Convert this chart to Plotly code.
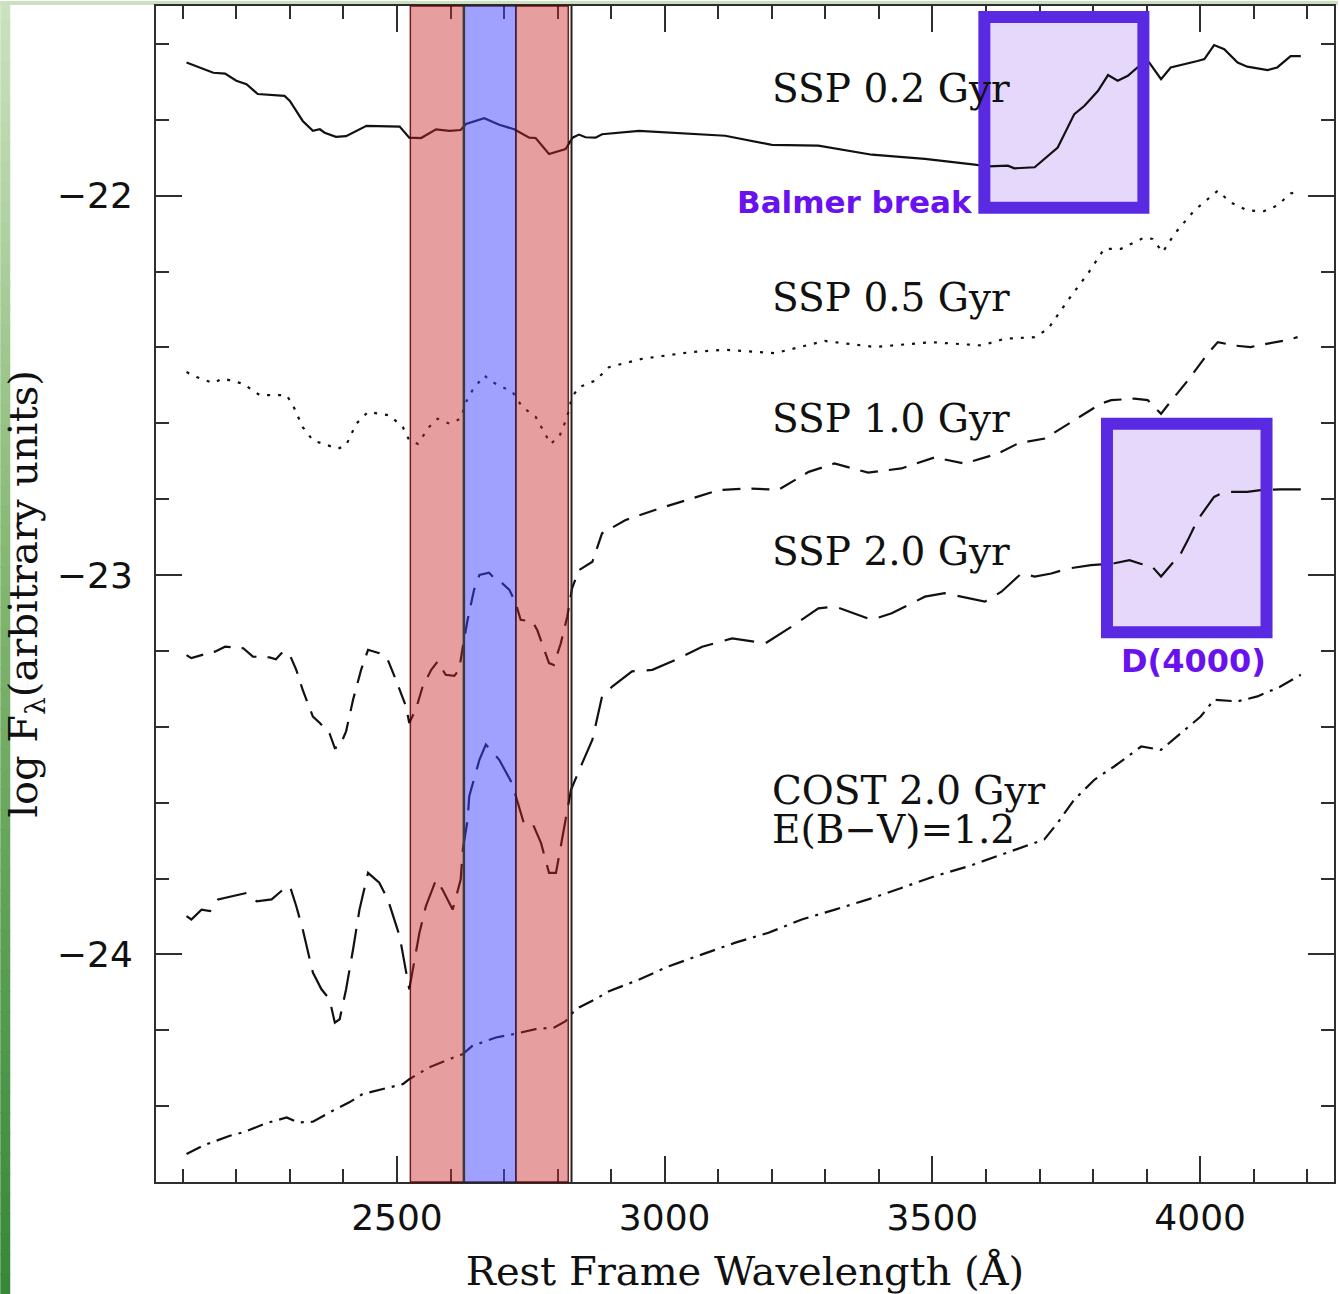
import plotly.graph_objects as go

# ---- spectra: rest-frame wavelength (Angstrom) vs log F_lambda ----
wl_ssp02 = [2107, 2132, 2157, 2179, 2200, 2219, 2240, 2290, 2300, 2324, 2343, 2356, 2365, 2386, 2405,
            2443, 2474, 2505, 2523, 2545, 2573, 2598, 2619, 2629, 2663, 2691, 2719, 2747, 2759, 2784,
            2815, 2828, 2840, 2852, 2871, 2883, 2952, 3051, 3113, 3200, 3287, 3387, 3486, 3579, 3604,
            3641, 3653, 3691, 3716, 3734, 3765, 3784, 3809, 3828, 3846, 3865, 3883, 3905, 3927, 3945,
            3995, 4008, 4026, 4045, 4070, 4088, 4126, 4144, 4169, 4188]
flux_ssp02 = [-21.649, -21.662, -21.676, -21.678, -21.697, -21.706, -21.732, -21.737, -21.750, -21.803,
              -21.829, -21.825, -21.834, -21.845, -21.843, -21.816, -21.818, -21.818, -21.847, -21.848,
              -21.825, -21.829, -21.827, -21.811, -21.796, -21.813, -21.825, -21.847, -21.848, -21.890,
              -21.877, -21.847, -21.839, -21.846, -21.847, -21.838, -21.829, -21.836, -21.842, -21.866,
              -21.868, -21.892, -21.903, -21.918, -21.923, -21.921, -21.928, -21.925, -21.895, -21.873,
              -21.785, -21.763, -21.724, -21.682, -21.697, -21.684, -21.662, -21.649, -21.693, -21.662,
              -21.645, -21.640, -21.603, -21.614, -21.649, -21.660, -21.669, -21.662, -21.632, -21.632]

wl_ssp05 = [2107, 2126, 2157, 2175, 2213, 2244, 2294, 2306, 2324, 2343, 2362, 2390, 2405, 2424, 2446,
            2467, 2486, 2511, 2523, 2539, 2560, 2576, 2598, 2619, 2629, 2641, 2663, 2678, 2716, 2734,
            2759, 2787, 2803, 2818, 2827, 2840, 2871, 2896, 2958, 3051, 3113, 3206, 3299, 3393, 3498,
            3592, 3635, 3691, 3716, 3753, 3790, 3821, 3852, 3896, 3911, 3930, 3952, 3989, 4033, 4057,
            4088, 4119, 4144, 4169, 4185]
flux_ssp05 = [-22.465, -22.478, -22.494, -22.482, -22.496, -22.526, -22.526, -22.553, -22.610, -22.645,
              -22.654, -22.667, -22.658, -22.601, -22.570, -22.575, -22.579, -22.610, -22.645, -22.654,
              -22.610, -22.588, -22.601, -22.588, -22.544, -22.513, -22.474, -22.491, -22.518, -22.557,
              -22.583, -22.654, -22.636, -22.583, -22.531, -22.505, -22.487, -22.452, -22.430, -22.412,
              -22.406, -22.415, -22.383, -22.399, -22.386, -22.395, -22.377, -22.373, -22.351, -22.276,
              -22.206, -22.140, -22.140, -22.110, -22.114, -22.149, -22.101, -22.039, -21.987, -22.018,
              -22.039, -22.041, -22.026, -21.994, -21.989]

wl_ssp10 = [2107, 2116, 2135, 2160, 2179, 2213, 2231, 2262, 2274, 2287, 2300, 2312, 2324, 2343, 2356,
            2374, 2384, 2393, 2405, 2418, 2433, 2446, 2467, 2483, 2498, 2517, 2523, 2536, 2548, 2564,
            2576, 2591, 2607, 2616, 2623, 2632, 2644, 2654, 2672, 2685, 2697, 2710, 2722, 2731, 2753,
            2762, 2784, 2793, 2806, 2818, 2827, 2840, 2865, 2883, 2927, 2989, 3051, 3101, 3157, 3213,
            3269, 3317, 3380, 3442, 3504, 3560, 3622, 3660, 3710, 3765, 3815, 3834, 3877, 3902, 3927,
            3939, 3977, 4014, 4033, 4063, 4094, 4126, 4157, 4182]
flux_ssp10 = [-23.211, -23.219, -23.211, -23.202, -23.189, -23.193, -23.215, -23.217, -23.222, -23.202,
              -23.211, -23.250, -23.303, -23.373, -23.390, -23.417, -23.456, -23.452, -23.412, -23.329,
              -23.250, -23.197, -23.206, -23.224, -23.276, -23.347, -23.390, -23.351, -23.294, -23.250,
              -23.228, -23.263, -23.266, -23.250, -23.189, -23.118, -23.039, -23.000, -22.994, -23.013,
              -23.022, -23.039, -23.075, -23.118, -23.123, -23.145, -23.232, -23.237, -23.180, -23.110,
              -23.035, -22.987, -22.965, -22.890, -22.855, -22.825, -22.798, -22.776, -22.772, -22.775,
              -22.728, -22.706, -22.730, -22.719, -22.690, -22.706, -22.680, -22.653, -22.640, -22.592,
              -22.548, -22.539, -22.535, -22.539, -22.575, -22.553, -22.487, -22.417, -22.386, -22.395,
              -22.399, -22.390, -22.382, -22.373]

wl_ssp20 = [2107, 2116, 2135, 2151, 2166, 2191, 2219, 2238, 2266, 2284, 2300, 2312, 2324, 2343, 2359,
            2374, 2384, 2393, 2405, 2418, 2430, 2446, 2467, 2483, 2505, 2523, 2529, 2542, 2554, 2573,
            2585, 2604, 2619, 2623, 2632, 2635, 2654, 2666, 2691, 2713, 2722, 2737, 2753, 2769, 2784,
            2797, 2806, 2818, 2825, 2846, 2865, 2883, 2902, 2939, 2977, 3020, 3070, 3126, 3188, 3237,
            3287, 3318, 3387, 3424, 3486, 3523, 3598, 3629, 3666, 3691, 3722, 3753, 3796, 3840, 3868,
            3890, 3908, 3927, 3964, 3977, 3995, 4026, 4045, 4088, 4113, 4150, 4188]
flux_ssp20 = [-23.899, -23.908, -23.882, -23.886, -23.855, -23.847, -23.838, -23.860, -23.855, -23.833,
              -23.820, -23.873, -23.934, -24.048, -24.092, -24.118, -24.180, -24.171, -24.092, -23.987,
              -23.882, -23.785, -23.811, -23.855, -23.952, -24.092, -24.048, -23.943, -23.873, -23.803,
              -23.829, -23.882, -23.803, -23.724, -23.645, -23.583, -23.487, -23.447, -23.487, -23.544,
              -23.583, -23.654, -23.654, -23.706, -23.785, -23.785, -23.715, -23.618, -23.566, -23.496,
              -23.434, -23.320, -23.294, -23.254, -23.250, -23.224, -23.189, -23.167, -23.180, -23.136,
              -23.088, -23.083, -23.118, -23.101, -23.057, -23.048, -23.070, -23.044, -22.996, -23.004,
              -22.996, -22.983, -22.974, -22.969, -22.961, -22.971, -22.974, -23.004, -22.943, -22.908,
              -22.855, -22.794, -22.781, -22.781, -22.776, -22.774, -22.774]

wl_cost = [2107, 2138, 2188, 2213, 2256, 2294, 2315, 2343, 2380, 2411, 2436, 2474, 2511, 2523, 2560,
           2598, 2623, 2641, 2685, 2722, 2759, 2793, 2815, 2828, 2840, 2871, 2896, 2946, 3008, 3070,
           3132, 3194, 3256, 3318, 3380, 3442, 3504, 3567, 3622, 3672, 3709, 3734, 3765, 3803, 3840,
           3890, 3927, 3964, 4001, 4026, 4070, 4107, 4150, 4188]
flux_cost = [-24.526, -24.504, -24.478, -24.469, -24.445, -24.430, -24.443, -24.441, -24.412, -24.390,
             -24.368, -24.355, -24.342, -24.329, -24.298, -24.276, -24.263, -24.241, -24.219, -24.209,
             -24.197, -24.193, -24.176, -24.154, -24.140, -24.118, -24.097, -24.070, -24.031, -24.000,
             -23.969, -23.943, -23.908, -23.882, -23.855, -23.825, -23.794, -23.768, -23.741, -23.715,
             -23.697, -23.653, -23.592, -23.539, -23.504, -23.452, -23.461, -23.417, -23.373, -23.329,
             -23.333, -23.320, -23.294, -23.263]

# ---- spectral windows ----
red_windows = [(2525, 2625), (2722, 2820)]
blue_window = (2625, 2722)
balmer_box = (3597, 3894, -22.032, -21.529)     # x0, x1, y0, y1
d4000_box = (3826, 4124, -23.151, -22.601)

# ---- labels ----
curve_labels = ["SSP 0.2 Gyr", "SSP 0.5 Gyr", "SSP 1.0 Gyr", "SSP 2.0 Gyr", "COST 2.0 Gyr", "E(B\u2212V)=1.2"]
curve_label_y = [-21.718, -22.268, -22.587, -22.937, -23.569, -23.670]
curve_label_x = 3196

x_ticks = [2500, 3000, 3500, 4000]
y_ticks = [-24, -23, -22]

INK = "#111111"
AXIS = "#2e2e2e"
PURPLE_LINE = "#5a2ae2"
PURPLE_FILL = "#e6d8fb"
PURPLE_TEXT = "#6a12ee"
SERIF = "DejaVu Serif"

series = [
    (wl_ssp02, flux_ssp02, "solid"),
    (wl_ssp05, flux_ssp05, "3px,8px"),
    (wl_ssp10, flux_ssp10, "18px,11px"),
    (wl_ssp20, flux_ssp20, "30px,12px"),
    (wl_cost, flux_cost, "16px,7px,3px,7px"),
]

fig = go.Figure()
for wl, fl, dash in series:
    fig.add_trace(go.Scatter(x=wl, y=fl, mode="lines",
                             line=dict(color=INK, width=2.2, dash=dash, shape="linear"),
                             hoverinfo="skip"))

shapes = []
# highlighted boxes: fill under the spectra, outline on top
for bx in (balmer_box, d4000_box):
    shapes.append(dict(type="rect", xref="x", yref="y", x0=bx[0], x1=bx[1], y0=bx[2], y1=bx[3],
                       fillcolor=PURPLE_FILL, line=dict(width=0), layer="below"))
    shapes.append(dict(type="rect", xref="x", yref="y", x0=bx[0], x1=bx[1], y0=bx[2], y1=bx[3],
                       fillcolor="rgba(0,0,0,0)", line=dict(color=PURPLE_LINE, width=12), layer="above"))

# continuum / index windows (translucent, over the spectra)
for x0, x1 in red_windows:
    shapes.append(dict(type="rect", xref="x", yref="paper", x0=x0, x1=x1, y0=0, y1=1,
                       fillcolor="rgba(200,40,40,0.45)", line=dict(color="rgba(90,0,0,0.85)", width=1.5),
                       layer="above"))
shapes.append(dict(type="rect", xref="x", yref="paper", x0=blue_window[0], x1=blue_window[1], y0=0, y1=1,
                   fillcolor="rgba(65,65,255,0.5)", line=dict(color="rgba(40,20,60,0.8)", width=1.5),
                   layer="above"))
shapes.append(dict(type="line", xref="x", yref="paper", x0=blue_window[0], x1=blue_window[0], y0=0, y1=1,
                   line=dict(color="#3a3a3a", width=2.5), layer="above"))
shapes.append(dict(type="line", xref="x", yref="paper", x0=2826, x1=2826, y0=0, y1=1,
                   line=dict(color="#222222", width=2), layer="above"))

# page decoration: green strip along the top and a green gradient along the left edge
W, H = 1340, 1294
ML, MR, MT, MB = 156, 4, 5, 112
pw, ph = W - ML - MR, H - MT - MB


def px_to_paper_x(px):
    return (px - ML) / pw


def px_to_paper_y(py):
    return (H - MB - py) / ph


shapes.append(dict(type="rect", xref="paper", yref="paper",
                   x0=px_to_paper_x(0), x1=px_to_paper_x(W), y0=px_to_paper_y(4), y1=px_to_paper_y(0),
                   fillcolor="#c9e1bf", line=dict(width=0), layer="below"))
grad_stops = [(0.0, (202, 226, 190)), (0.45, (130, 182, 112)), (1.0, (56, 136, 58))]
steps = 64
for i in range(steps):
    t = i / (steps - 1)
    for (t0, c0), (t1, c1) in zip(grad_stops[:-1], grad_stops[1:]):
        if t0 <= t <= t1:
            f = (t - t0) / (t1 - t0)
            c = tuple(int(round(c0[k] + (c1[k] - c0[k]) * f)) for k in range(3))
            break
    y_top = H * i / steps
    y_bot = H * (i + 1) / steps + 1
    shapes.append(dict(type="rect", xref="paper", yref="paper",
                       x0=px_to_paper_x(0), x1=px_to_paper_x(10),
                       y0=px_to_paper_y(y_bot), y1=px_to_paper_y(y_top),
                       fillcolor="rgb(%d,%d,%d)" % c, line=dict(width=0), layer="below"))

annotations = []
for txt, yv in zip(curve_labels, curve_label_y):
    annotations.append(dict(x=curve_label_x, y=yv, xref="x", yref="y", text=txt, showarrow=False,
                            xanchor="left", yanchor="middle",
                            font=dict(family=SERIF, size=39, color=INK)))
annotations.append(dict(x=3580, y=-22.016, xref="x", yref="y", text="<b>Balmer break</b>", showarrow=False,
                        xanchor="right", yanchor="middle",
                        font=dict(family="DejaVu Sans", size=31, color=PURPLE_TEXT)))
annotations.append(dict(x=3988, y=-23.226, xref="x", yref="y", text="<b>D(4000)</b>", showarrow=False,
                        xanchor="center", yanchor="middle",
                        font=dict(family="DejaVu Sans", size=32, color=PURPLE_TEXT)))

axis_common = dict(showgrid=False, zeroline=False, showline=True, linewidth=2, linecolor=AXIS,
                   mirror="allticks", ticks="inside", tickwidth=2, tickcolor=AXIS,
                   tickfont=dict(family="DejaVu Sans", size=36, color=INK))

fig.update_layout(
    width=W, height=H,
    margin=dict(l=ML, r=MR, t=MT, b=MB, pad=0),
    paper_bgcolor="white", plot_bgcolor="white",
    showlegend=False,
    shapes=shapes,
    annotations=annotations,
    xaxis=dict(range=[2050, 4250], tickvals=x_ticks, ticklen=26,
               minor=dict(dtick=100, tick0=2000, ticks="inside", ticklen=13, tickwidth=2, tickcolor=AXIS),
               ticklabelstandoff=3,
               title=dict(text="Rest Frame Wavelength (\u00c5)", standoff=22,
                          font=dict(family=SERIF, size=40, color=INK)),
               **axis_common),
    yaxis=dict(range=[-24.6, -21.5], tickvals=y_ticks, ticktext=["\u221224", "\u221223", "\u221222"], ticklen=26,
               minor=dict(dtick=0.2, tick0=-24, ticks="inside", ticklen=13, tickwidth=2, tickcolor=AXIS),
               ticklabelstandoff=14,
               title=dict(text="log F<sub>\u03bb</sub>(arbitrary units)", standoff=10,
                          font=dict(family=SERIF, size=40, color=INK)),
               **axis_common),
)

fig.write_html("out.html")
